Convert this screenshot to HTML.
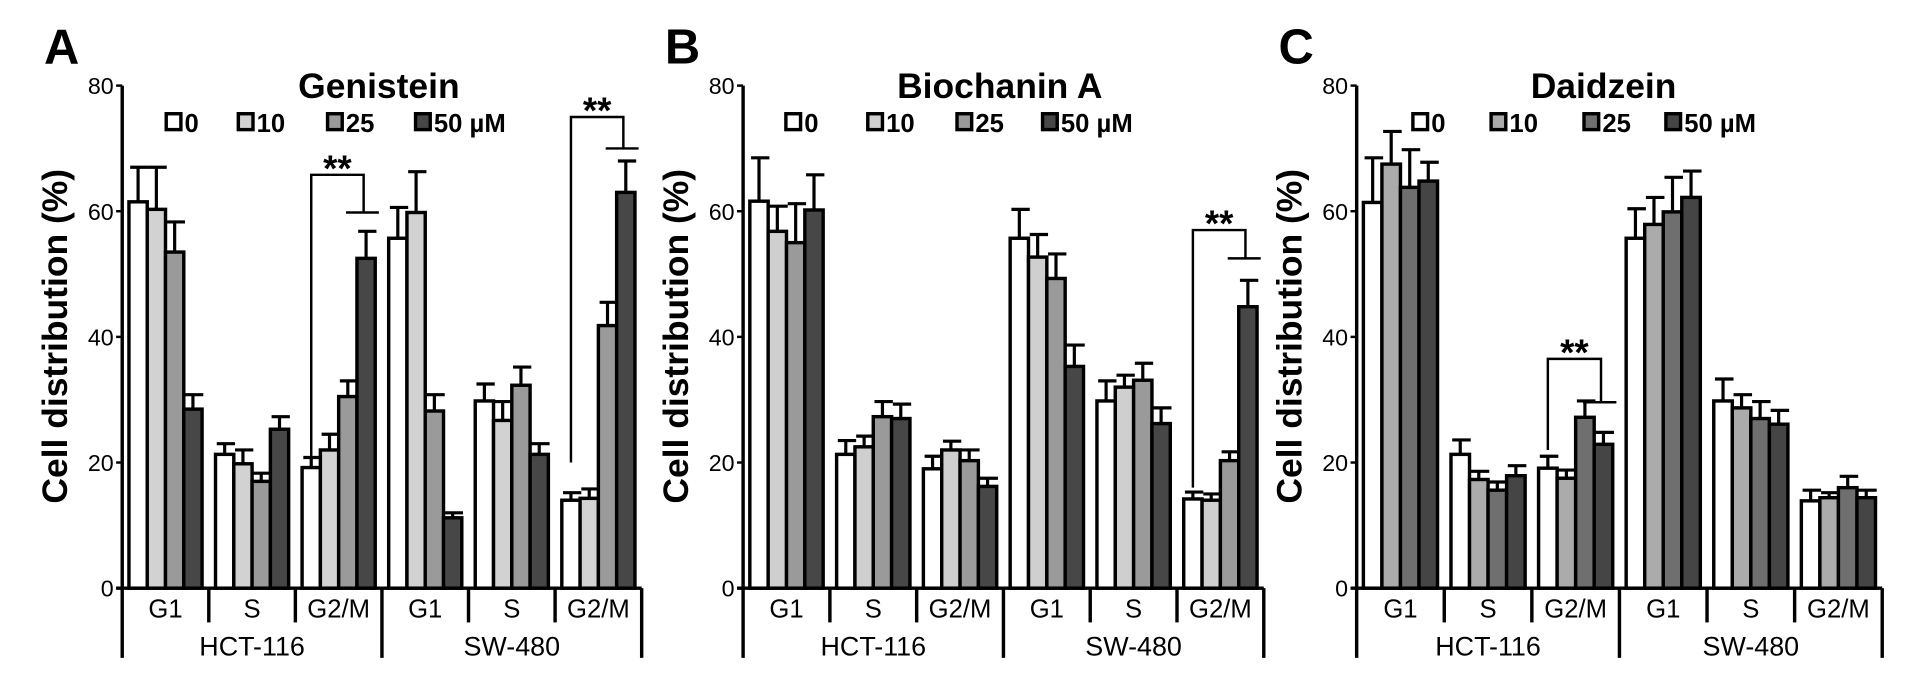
<!DOCTYPE html>
<html><head><meta charset="utf-8"><style>
body{margin:0;background:#fff}
svg{display:block;font-family:"Liberation Sans",Arial,sans-serif}
</style></head><body>
<svg id="fig" width="1925" height="697" viewBox="0 0 1575 570" preserveAspectRatio="none" xmlns="http://www.w3.org/2000/svg"></svg>
<script>
const phases = ["G1","S","G2/M","G1","S","G2/M"];
const cellLines = ["HCT-116","SW-480"];
const doses = ["0","10","25","50 µM"];
const yTicks = [0,20,40,60,80];
const titles = ["Genistein","Biochanin A","Daidzein"];
const letters = ["A","B","C"];
// means per panel: [group][dose]
const meansA = [[61.5,60.3,53.5,28.5],[21.3,19.8,17,25.3],[19.2,22,30.5,52.5],[55.7,59.8,28.2,11.2],[29.8,26.7,32.3,21.3],[14,14.3,41.8,63]];
const topsA  = [[67,67,58.3,30.8],[23,22,18.3,27.3],[20.8,24.5,33,56.8],[60.6,66.3,30.8,12],[32.5,29.7,35.2,23],[15.2,15.8,45.5,68]];
const meansB = [[61.6,56.8,55,60.2],[21.3,22.5,27.3,27],[19,22,20.3,16.2],[55.7,52.7,49.3,35.3],[29.8,32,33.1,26.2],[14.2,14,20.3,44.8]];
const topsB  = [[68.5,60.8,61.2,65.8],[23.5,24.2,29.7,29.3],[21,23.4,22,17.5],[60.3,56.3,53.2,38.7],[33,33.9,35.8,28.7],[15.3,15,21.7,49]];
const meansC = [[61.4,67.5,63.8,64.8],[21.3,17.3,15.6,17.9],[19.1,17.5,27.2,22.9],[55.7,57.9,59.9,62.2],[29.8,28.7,27,26.1],[13.9,14.4,16,14.4]];
const topsC  = [[68.5,72.7,69.8,67.8],[23.6,18.6,16.9,19.5],[21,18.8,29.8,24.8],[60.4,62.2,65.4,66.4],[33.3,30.8,29.7,28.3],[15.6,15.2,17.8,15.6]];
// brackets: [group, leftBottomValue, topValue, rightDropValue]
const bracketsA = [[2,20.8,65.8,59.8],[5,20,75,70]];
const bracketsB = [[5,16,57,52.5]];
const bracketsC = [[2,22,36.5,29.6]];

const panels=[
 {x0:100,x1:525,means:meansA,tops:topsA,br:bracketsA,colors:["#fff","#d2d2d2","#9a9a9a","#474747"],lx:[136,195,268,340],tx:310},
 {x0:608,x1:1034,means:meansB,tops:topsB,br:bracketsB,colors:["#fff","#cfcfcf","#9a9a9a","#474747"],lx:[643,710,783,853],tx:818},
 {x0:1110,x1:1540,means:meansC,tops:topsC,br:bracketsC,colors:["#fff","#ababab","#6f6f6f","#454545"],lx:[1156,1220,1296,1363],tx:1312}
];
const Y0=481,Y80=70;
const sy=v=>Y0-(Y0-Y80)*v/80;
const svg=document.getElementById('fig');
const NS="http://www.w3.org/2000/svg";
function mk(tag,at,parent){const e=document.createElementNS(NS,tag);for(const k in at)e.setAttribute(k,at[k]);(parent||svg).appendChild(e);return e;}
panels.forEach((p,pi)=>{
  const g=mk('g',{});
  
  
  const L=mk('text',{x:p.x0-64,y:52,'font-size':40,'font-weight':'bold'},g);L.textContent=letters[pi];
  
  
  const T=mk('text',{x:p.tx,y:80,'font-size':29,'font-weight':'bold','text-anchor':'middle'},g);T.textContent=titles[pi];
  
  
  const yt=mk('text',{transform:`translate(${p.x0-45},275) rotate(-90)`,'font-size':29,'font-weight':'bold','text-anchor':'middle'},g);yt.textContent="Cell distribution (%)";
  
  
  doses.forEach((d,i)=>{
    const lg=mk('g',{},g);
    
    
    mk('rect',{x:p.lx[i],y:93,width:12,height:13,fill:p.colors[i],stroke:'#000','stroke-width':2.8},lg);
    const t=mk('text',{x:p.lx[i]+15,y:108,'font-size':21,'font-weight':'bold'},lg);t.textContent=d;
  });
  const gw=(p.x1-p.x0)/6, pad=5.5, bw=(gw-2*pad)/4;
  p.means.forEach((grp,gi)=>{
    grp.forEach((v,di)=>{
      const x=p.x0+gi*gw+pad+di*bw;
      const top=p.tops[gi][di];
      const cx=x+bw/2;
      const eb=mk('path',{d:`M${cx} ${sy(v)}V${sy(top)}M${x+1} ${sy(top)}H${x+bw+1}`,stroke:'#000','stroke-width':2.6,fill:'none'},g);
      
      
      const r=mk('rect',{x:x,y:sy(v),width:bw,height:Y0-sy(v),fill:p.colors[di],stroke:'#000','stroke-width':2.8},g);
      
      
    });
  });
  p.br.forEach(b=>{
    const gx=p.x0+b[0]*gw+pad;
    const lx=gx+bw/2, rx=gx+3.5*bw-2;
    const br=mk('path',{d:`M${lx} ${sy(b[1])}V${sy(b[2])}H${rx}V${sy(b[3])}M${gx+2.4*bw} ${sy(b[3])}H${gx+4*bw+3}`,stroke:'#000','stroke-width':2,fill:'none'},g);
    
    
    const st=mk('text',{x:(lx+rx)/2,y:sy(b[2])+5,'font-size':30,'font-weight':'bold','text-anchor':'middle'},g);st.textContent="**";
    
    
  });
  const ax=mk('path',{d:`M${p.x0} ${Y80}V${Y0}M${p.x0-5} ${Y0}H${p.x1}`,stroke:'#000','stroke-width':2.8,fill:'none'},g);
  
  
  yTicks.forEach(t=>{
    mk('line',{x1:p.x0-5,x2:p.x0,y1:sy(t),y2:sy(t),stroke:'#000','stroke-width':2},g);
    const tl=mk('text',{x:p.x0-7,y:sy(t)+7,'font-size':19,'text-anchor':'end'},g);tl.textContent=t;
    
    
  });
  for(let i=0;i<=6;i++){
    const x=p.x0+i*gw;const long=(i%3===0);
    mk('line',{x1:x,x2:x,y1:Y0,y2:long?538:509,stroke:'#000','stroke-width':2.8},g);
  }
  phases.forEach((ph,i)=>{
    const t=mk('text',{x:p.x0+(i+.5)*gw,y:505,'font-size':21,'text-anchor':'middle'},g);t.textContent=ph;
    
    
  });
  cellLines.forEach((c,i)=>{
    const t=mk('text',{x:p.x0+(i*3+1.5)*gw,y:536,'font-size':22,'text-anchor':'middle'},g);t.textContent=c;
    
    
  });
});
</script>
</body></html>
